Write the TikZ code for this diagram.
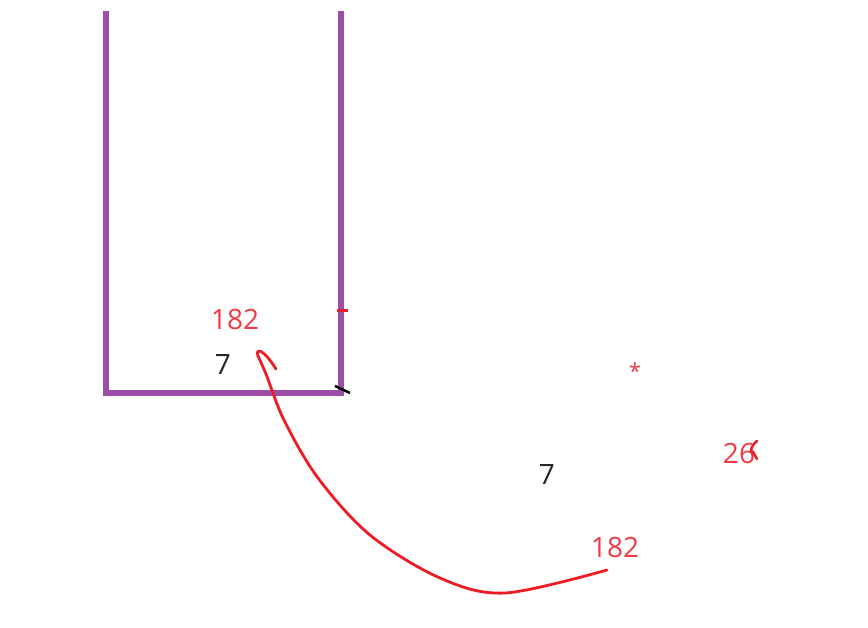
\documentclass[tikz,border=0pt]{standalone}
\usepackage{fontspec}
\setmainfont{Open Sans}
\begin{document}
\begin{tikzpicture}[x=1pt,y=-1pt,
  wall/.style={draw=purpleline,line width=5.5pt},
  ink/.style={draw=redink,line width=2.8pt,line cap=round,line join=round},
  lbl/.style={font=\fontsize{28}{32}\selectfont,inner sep=0pt},
  redlbl/.style={lbl,text=redtext},
  blklbl/.style={lbl,text=black!85}]
\definecolor{purpleline}{HTML}{9B4DA8}
\definecolor{redink}{HTML}{EE1C25}
\definecolor{redtext}{HTML}{EE3B45}
\useasboundingbox (0,0) rectangle (868,628);
\coordinate (tl) at (106,11);
\coordinate (bl) at (106,393);
\coordinate (br) at (341,393);
\coordinate (tr) at (341,11);
\draw[wall,line join=miter] (tl) -- (bl) -- (br) -- (tr);
% marks
\coordinate (rt1) at (337,311); \coordinate (rt2) at (348,311);
\draw[draw=redink,line width=3pt] (rt1) -- (rt2);
\coordinate (bk1) at (335,386); \coordinate (bk2) at (350,393);
\draw[black,line width=2.5pt] (bk1) -- (bk2);
% labels
\node[redlbl] (a182) at (235,320) {182};
\node[blklbl] (a7) at (223,365) {7};
\node[redlbl,font=\fontsize{22}{26}\selectfont] (star) at (635,371) {*};
\node[redlbl] (b26) at (739,453) {26};
\node[blklbl] (b7) at (547,475) {7};
\node[redlbl] (b182) at (615,547) {182};
% hand drawn curve
\coordinate (c0) at (607,570);
\coordinate (c1) at (505,593);
\coordinate (c2) at (440,578);
\coordinate (c3) at (370,535);
\coordinate (c4) at (318,478);
\coordinate (c5) at (284,420);
\coordinate (c6) at (266,374);
\coordinate (c7) at (258,356);
\coordinate (c8) at (276,369);
\draw[ink] plot[smooth,tension=0.55] coordinates {(c0) (c1) (c2) (c3) (c4) (c5) (c6) (c7)}
  .. controls (255,348) and (263,348) .. (c8);
% small hook near 26
\coordinate (h0) at (757,441);
\coordinate (h1) at (757,459);
\draw[draw=redink,line width=2.5pt,line cap=round] (h0) .. controls (750,447) and (750,452) .. (753,452) -- (h1);
\end{tikzpicture}
\end{document}
